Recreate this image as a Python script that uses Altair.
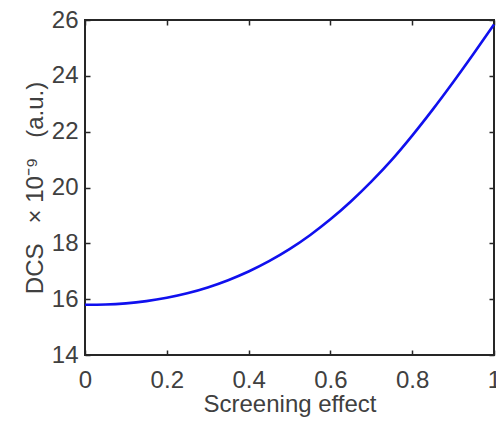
import altair as alt
import pandas as pd

# Data
screening = [0.0, 0.05, 0.1, 0.15, 0.2, 0.25, 0.3, 0.35, 0.4, 0.45, 0.5,
             0.55, 0.6, 0.65, 0.7, 0.75, 0.8, 0.85, 0.9, 0.95, 1.0]
dcs = [15.80, 15.81, 15.85, 15.93, 16.05, 16.21, 16.42, 16.68, 16.99, 17.36, 17.79,
       18.29, 18.86, 19.50, 20.21, 20.99, 21.86, 22.79, 23.77, 24.79, 25.84]
x_ticks = [0, 0.2, 0.4, 0.6, 0.8, 1.0]
y_ticks = [14, 16, 18, 20, 22, 24, 26]

df = pd.DataFrame({"x": screening, "y": dcs})

FONT = "Liberation Sans"
AXC = "#262626"
TXT = "#404040"
NB = "\u00a0"

xscale = alt.Scale(domain=[0, 1], nice=False, zero=False)
yscale = alt.Scale(domain=[14, 26], nice=False, zero=False)

common = dict(offset=-5, tickSize=5, tickWidth=1.5, tickColor=AXC, domain=False,
              grid=False, labelFont=FONT, labelFontSize=24, labelColor=TXT,
              titleFont=FONT, titleFontSize=24, titleColor=TXT, titleFontWeight="normal")

ytitle = "DCS" + NB * 3 + "×" + NB + "10⁻⁹" + NB * 3 + "(a.u.)"

line = alt.Chart(df).mark_line(color="#1010EE", strokeWidth=2.6, interpolate="monotone").encode(
    x=alt.X("x:Q", scale=xscale,
            axis=alt.Axis(orient="bottom", values=x_ticks, format="~g", title="Screening effect",
                          labelPadding=13, titlePadding=0, labelFlush=False, **common)),
    y=alt.Y("y:Q", scale=yscale,
            axis=alt.Axis(orient="left", values=y_ticks, title=ytitle,
                          labelPadding=7, titlePadding=4, **common)),
)

frame = alt.Chart(df).mark_line(opacity=0).encode(
    x=alt.X("x:Q", scale=xscale,
            axis=alt.Axis(orient="top", values=x_ticks, labels=False, title=None, **common)),
    y=alt.Y("y:Q", scale=yscale,
            axis=alt.Axis(orient="right", values=y_ticks, labels=False, title=None, **common)),
)

chart = alt.layer(line, frame).resolve_axis(x="independent", y="independent").properties(
    width=409, height=335,
    autosize=alt.AutoSizeParams(type="none"),
    padding={"left": 77, "top": 12, "right": 2, "bottom": 65},
    background="white",
).configure_view(stroke=AXC, strokeWidth=2)

chart.save("out.html", embed_options={"renderer": "svg", "actions": False})
